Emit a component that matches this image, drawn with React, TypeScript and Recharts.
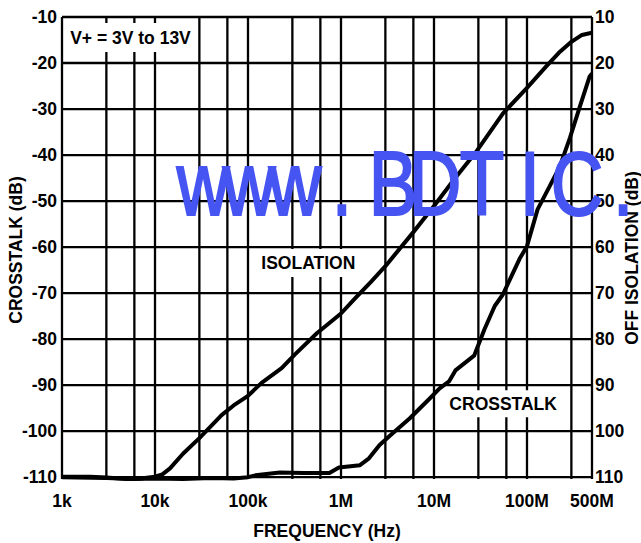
import React from "react";
import {
  CartesianGrid,
  Label,
  Line,
  LineChart,
  ReferenceArea,
  XAxis,
  YAxis,
} from "recharts";

const FONT = "Arial, 'Liberation Sans', Helvetica, sans-serif";

// x axis (log): labelled ticks and the grid lines at 1x, 3x and 6x each decade
const freqTicks = [1e3, 1e4, 1e5, 1e6, 1e7, 1e8, 5e8];
const freqTickLabels = ["1k", "10k", "100k", "1M", "10M", "100M", "500M"];
const gridFreqs = [
  1e3, 3e3, 6e3, 1e4, 3e4, 6e4, 1e5, 3e5, 6e5, 1e6, 3e6, 6e6, 1e7, 3e7, 6e7,
  1e8, 3e8, 5e8,
];

const crosstalkTicks = [-110, -100, -90, -80, -70, -60, -50, -40, -30, -20, -10];
const isolationTicks = [10, 20, 30, 40, 50, 60, 70, 80, 90, 100, 110];

// OFF ISOLATION (dB, right axis)
const isolationFreq = [
  1e3, 2e3, 3e3, 5e3, 7e3, 1e4, 1.2e4, 1.45e4, 2e4, 3e4, 4e4, 5.2e4, 7e4, 1e5,
  1.4e5, 2.3e5, 3.2e5, 5.5e5, 1e6, 1.4e6, 2.1e6, 3e6, 6e6, 1e7, 1.65e7, 2.8e7,
  5.5e7, 1e8, 1.6e8, 2.2e8, 3e8, 3.9e8, 5e8,
];
const isolationDb = [
  110.0, 110.0, 110.2, 110.5, 110.4, 110.0, 109.5, 108.2, 105.0, 101.6, 99.0,
  96.6, 94.5, 92.4, 89.6, 86.4, 83.4, 78.8, 74.5, 71.3, 67.6, 64.2, 56.8, 51.1,
  45.3, 39.5, 31.0, 25.4, 20.8, 17.8, 15.4, 13.9, 13.4,
];

// CROSSTALK (dB, left axis)
const crosstalkFreq = [
  1e3, 3e3, 6e3, 1e4, 2e4, 4e4, 7e4, 1e5, 1.2e5, 2.2e5, 4e5, 7.5e5, 9.5e5,
  1.6e6, 2e6, 2.6e6, 3.4e6, 5.5e6, 9e6, 1.15e7, 1.45e7, 1.7e7, 2.7e7, 3.5e7,
  4.5e7, 5.5e7, 8.3e7, 1e8, 1.3e8, 1.75e8, 2.25e8, 2.9e8, 3.7e8, 4.7e8, 5e8,
];
const crosstalkDb = [
  -110.0, -110.2, -110.4, -110.3, -110.4, -110.2, -110.3, -110.0, -109.6,
  -109.0, -109.1, -109.1, -107.9, -107.4, -105.9, -103.0, -100.9, -97.2, -92.9,
  -90.7, -89.2, -86.8, -83.6, -77.8, -72.8, -70.3, -62.6, -59.8, -51.8, -46.8,
  -42.5, -36.2, -29.5, -23.0, -22.3,
];

const isolation = isolationFreq.map((f, i) => ({ f, db: isolationDb[i] }));
const crosstalk = crosstalkFreq.map((f, i) => ({ f, db: crosstalkDb[i] }));

// white boxes behind the in-plot notes (frequency / crosstalk-dB units)
const notes = [
  { text: "V+ = 3V to 13V", f1: 1.05e3, f2: 2.83e4, db1: -11.3, db2: -17.6 },
  { text: "ISOLATION", f1: 1.1e5, f2: 1.8e6, db1: -60.4, db2: -66.5 },
  { text: "CROSSTALK", f1: 1.2e7, f2: 2.56e8, db1: -91.1, db2: -97.0 },
];

const tickStyle = { fill: "#000", fontSize: 17.5, fontWeight: 700, fontFamily: FONT };
const titleStyle = { fill: "#000", fontSize: 17.5, fontWeight: 700, fontFamily: FONT };

const VerticalTitle = ({ viewBox, text, dx, dy }: any) => {
  const cx = viewBox.x + dx;
  const cy = viewBox.y + viewBox.height / 2 + dy;
  return (
    <text
      x={cx}
      y={cy}
      transform={`rotate(-90 ${cx} ${cy})`}
      textAnchor="middle"
      dominantBaseline="central"
      {...titleStyle}
    >
      {text}
    </text>
  );
};

const Watermark = () => {
  const centers = [203, 249, 295, 342, 393, 435, 482, 530, 577, 623];
  const sx = 0.8;
  return (
    <svg
      width={641}
      height={543}
      style={{ position: "absolute", left: 0, top: 0, pointerEvents: "none" }}
    >
      <g transform={`translate(0 215) scale(${sx} 1)`}>
        <text
          x={centers.map((c) => c / sx).join(" ")}
          y={0}
          textAnchor="middle"
          fontSize={91}
          fontFamily={FONT}
          fill="#4655f2"
          stroke="#4655f2"
          strokeWidth={2.2}
        >
          www.BDTIC.
        </text>
      </g>
    </svg>
  );
};

export default function App() {
  return (
    <div style={{ position: "absolute", left: 0, top: 0, width: 641, height: 543, background: "#fff" }}>
      <LineChart width={641} height={543} margin={{ top: 17, right: 0, bottom: 0, left: 0 }}>
        <CartesianGrid
          xAxisId="main"
          yAxisId="left"
          stroke="#000"
          strokeWidth={2.3}
          fill="none"
          verticalValues={gridFreqs}
          horizontalValues={crosstalkTicks}
        />
        <XAxis
          xAxisId="main"
          dataKey="f"
          type="number"
          scale="log"
          domain={[1e3, 5e8]}
          allowDataOverflow
          ticks={freqTicks}
          interval={0}
          tickFormatter={(v) => freqTickLabels[freqTicks.indexOf(v)] ?? ""}
          tick={tickStyle}
          tickLine={false}
          axisLine={false}
          tickSize={0}
          tickMargin={16}
          height={64}
        >
          <Label
            content={({ viewBox }: any) => (
              <text
                x={viewBox.x + viewBox.width / 2}
                y={viewBox.y + 58}
                textAnchor="middle"
                {...titleStyle}
              >
                FREQUENCY (Hz)
              </text>
            )}
          />
        </XAxis>
        <YAxis
          yAxisId="left"
          type="number"
          domain={[-110, -10]}
          ticks={crosstalkTicks}
          interval={0}
          tick={tickStyle}
          tickLine={false}
          axisLine={false}
          tickSize={0}
          tickMargin={5}
          width={62}
        >
          <Label
            content={({ viewBox }: any) => (
              <VerticalTitle viewBox={viewBox} text="CROSSTALK (dB)" dx={16} dy={2} />
            )}
          />
        </YAxis>
        <YAxis
          yAxisId="right"
          orientation="right"
          type="number"
          domain={[10, 110]}
          reversed
          ticks={isolationTicks}
          interval={0}
          tick={{ ...tickStyle, textAnchor: "start" }}
          tickLine={false}
          axisLine={false}
          tickSize={0}
          tickMargin={3}
          width={49}
        >
          <Label
            content={({ viewBox }: any) => (
              <VerticalTitle viewBox={viewBox} text="OFF ISOLATION (dB)" dx={40} dy={10} />
            )}
          />
        </YAxis>
        {notes.map((n) => (
          <ReferenceArea
            key={n.text}
            xAxisId="main"
            yAxisId="left"
            x1={n.f1}
            x2={n.f2}
            y1={n.db1}
            y2={n.db2}
            fill="#fff"
            fillOpacity={1}
            stroke="none"
            label={{ value: n.text, position: "center", ...titleStyle }}
          />
        ))}
        <Line
          data={isolation}
          dataKey="db"
          xAxisId="main"
          yAxisId="right"
          type="linear"
          stroke="#000"
          strokeWidth={4}
          strokeLinejoin="round"
          dot={false}
          activeDot={false}
          isAnimationActive={false}
        />
        <Line
          data={crosstalk}
          dataKey="db"
          xAxisId="main"
          yAxisId="left"
          type="linear"
          stroke="#000"
          strokeWidth={4}
          strokeLinejoin="round"
          dot={false}
          activeDot={false}
          isAnimationActive={false}
        />
      </LineChart>
      <Watermark />
    </div>
  );
}
